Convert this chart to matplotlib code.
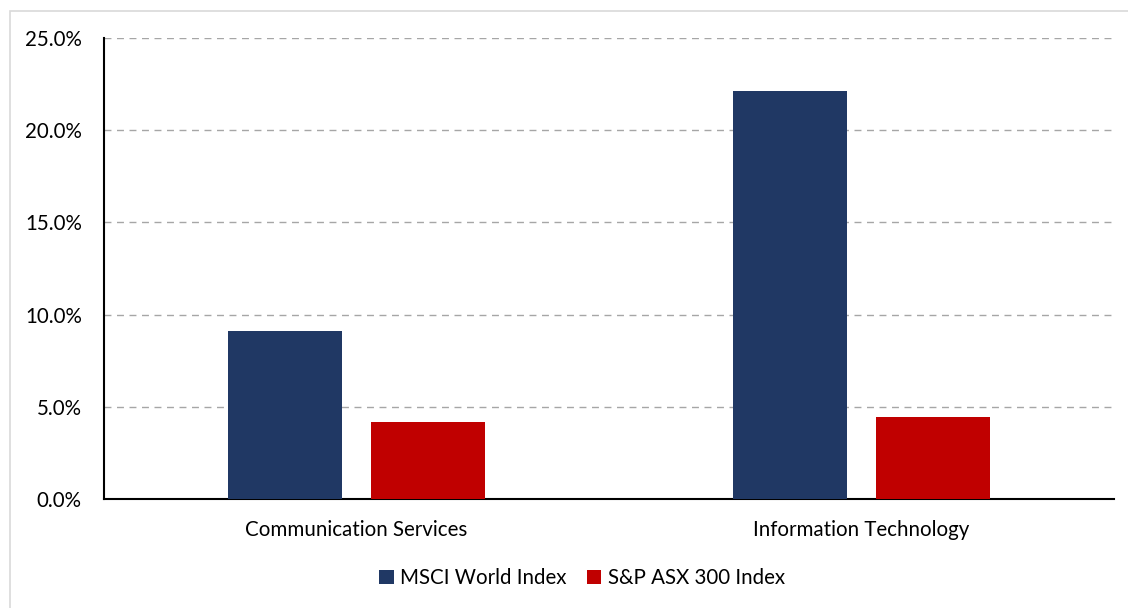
import matplotlib.pyplot as plt
from matplotlib.patches import Rectangle
import numpy as np

categories = ['Communication Services', 'Information Technology']
msci = [9.11, 22.13]
asx = [4.18, 4.45]
series_names = ['MSCI World Index', 'S&P ASX 300 Index']
colors = ['#203864', '#C00000']

plt.rcParams['font.family'] = ['Lato', 'DejaVu Sans']

fig = plt.figure(figsize=(11.28, 6.08), dpi=100)
fig.patches.append(Rectangle((10 / 1128, -0.1), 1.2, 1 - 11 / 608 + 0.1,
                             transform=fig.transFigure, fill=False,
                             edgecolor='#D9D9D9', linewidth=1.2))
ax = fig.add_axes([104 / 1128, 1 - 499 / 608, 1010 / 1128, 461 / 608])

x = np.arange(len(categories))
w = 0.224
off = 0.1417
ax.bar(x - off, msci, w, color=colors[0], label=series_names[0], zorder=3)
ax.bar(x + off, asx, w, color=colors[1], label=series_names[1], zorder=3)

ax.set_xlim(-0.5, 1.5)
ax.set_ylim(0, 25)
ax.set_yticks(np.arange(0, 26, 5))
ax.set_yticklabels([f'{v:.1f}%' for v in np.arange(0, 26, 5)])
ax.set_xticks(x)
ax.set_xticklabels(categories)
ax.tick_params(axis='both', length=0, labelsize=14.8, colors='black')
ax.tick_params(axis='x', pad=15)
ax.tick_params(axis='y', pad=16)
ax.grid(axis='y', linestyle=(0, (5, 4)), color='#A6A6A6', linewidth=1, zorder=0)
for s in ['top', 'right']:
    ax.spines[s].set_visible(False)
ax.spines['left'].set_linewidth(1.5)
ax.spines['bottom'].set_linewidth(1.5)

fig.legend(loc='center', bbox_to_anchor=(582 / 1128, 1 - 578 / 608), ncol=2,
           frameon=False, fontsize=14.8, handlelength=0.7, handleheight=0.7,
           handletextpad=0.3, columnspacing=1.0)

fig.savefig('out.png', dpi=100)
